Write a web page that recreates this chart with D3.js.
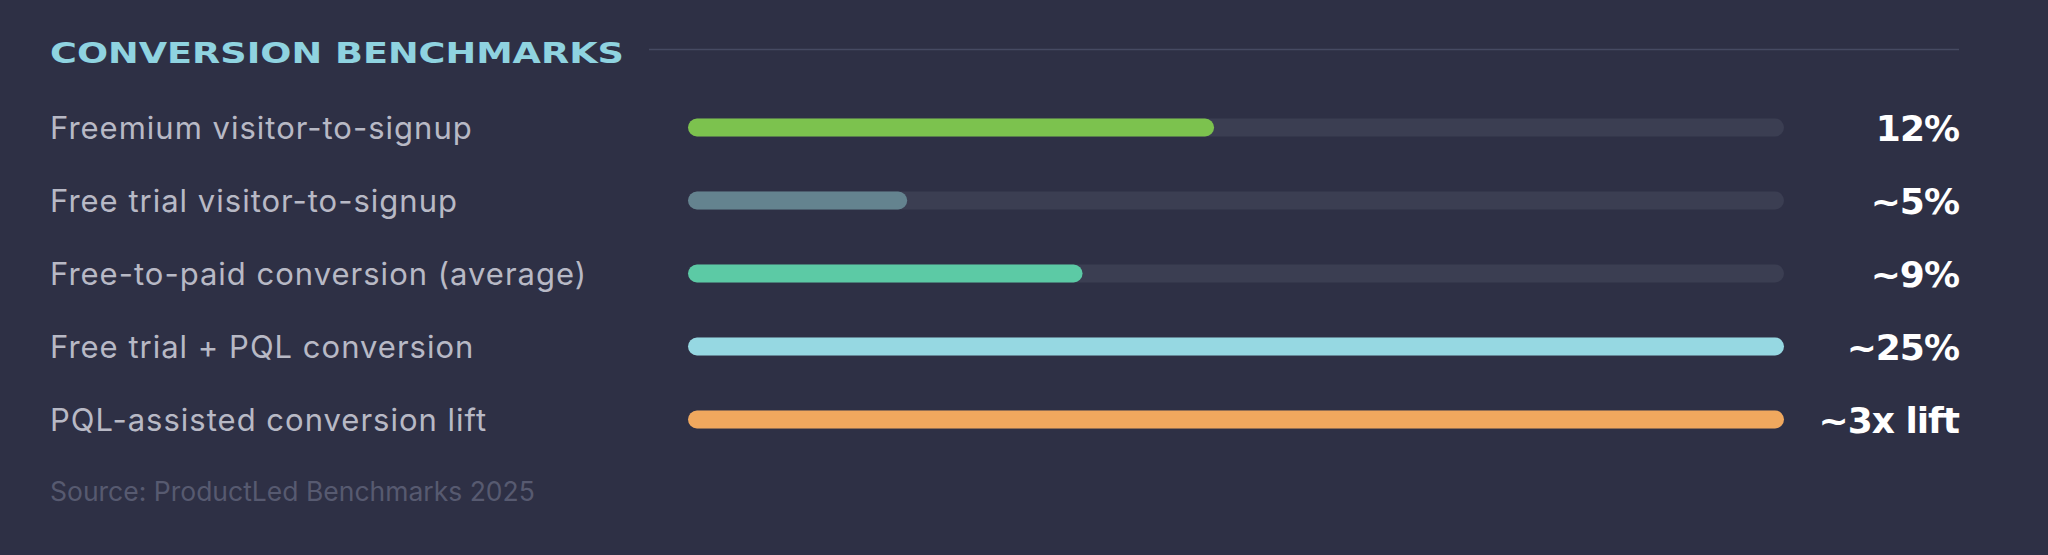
<!DOCTYPE html>
<html>
<head>
<meta charset="utf-8">
<script src="https://cdn.jsdelivr.net/npm/d3@7"></script>
<style>
  html, body { margin: 0; padding: 0; background: #2e3045; }
  svg { display: block; }
</style>
</head>
<body>
<div id="chart"></div>
<script>
// data
var categories = [
  "Freemium visitor-to-signup",
  "Free trial visitor-to-signup",
  "Free-to-paid conversion (average)",
  "Free trial + PQL conversion",
  "PQL-assisted conversion lift"
];
var values = [12, 5, 9, 25, 25];
var valueLabels = ["12%", "~5%", "~9%", "~25%", "~3x lift"];
var barColors = ["#7cc24e", "#64838f", "#5ccaa5", "#96d8e2", "#f0a85e"];
var title = "CONVERSION BENCHMARKS";
var source = "Source: ProductLed Benchmarks 2025";

function init(){
	var w = 2048;
	var h = 555;
	var barH = 18;

	var svg = d3.select("#chart")
				.append("svg")
				.attr("width", w)
				.attr("height", h);

	svg.append("rect")
		.attr("width", w)
		.attr("height", h)
		.attr("fill", "#2e3045");

	var x = d3.scaleLinear()
				.domain([0, 25])
				.range([688, 1784]);

	var y = d3.scalePoint()
				.domain(categories)
				.range([127.5, 419.5]);

	// title + rule
	svg.append("text")
		.attr("x", 50)
		.attr("y", 63)
		.attr("fill", "#8fd3e0")
		.attr("font-family", "'DejaVu Sans', sans-serif")
		.attr("font-weight", "bold")
		.attr("font-size", 29)
		.attr("textLength", 574)
		.attr("lengthAdjust", "spacingAndGlyphs")
		.text(title);

	svg.append("line")
		.attr("x1", 649)
		.attr("x2", 1959)
		.attr("y1", 49.5)
		.attr("y2", 49.5)
		.attr("stroke", "#464a62")
		.attr("stroke-width", 1.5);

	var rows = svg.selectAll("g.row")
		.data(categories)
		.enter()
		.append("g")
		.attr("class", "row")
		.attr("transform", function(d){ return "translate(0," + y(d) + ")"; });

	// track
	rows.append("rect")
		.attr("x", x(0))
		.attr("y", -barH / 2)
		.attr("width", x(25) - x(0))
		.attr("height", barH)
		.attr("rx", barH / 2)
		.attr("fill", "#3b3e52");

	// value bar
	rows.append("rect")
		.attr("x", x(0))
		.attr("y", -barH / 2)
		.attr("width", function(d, i){ return x(values[i]) - x(0); })
		.attr("height", barH)
		.attr("rx", barH / 2)
		.attr("fill", function(d, i){ return barColors[i]; });

	rows.append("text")
		.attr("x", 50)
		.attr("y", 11)
		.attr("fill", "#b8b9c5")
		.attr("font-family", "Inter, sans-serif")
		.attr("font-size", 31)
		.attr("letter-spacing", 1)
		.text(function(d){ return d; });

	rows.append("text")
		.attr("x", 1959)
		.attr("y", 13)
		.attr("text-anchor", "end")
		.attr("fill", "#ffffff")
		.attr("font-family", "'DejaVu Sans', sans-serif")
		.attr("font-weight", "bold")
		.attr("font-size", 36)
		.attr("letter-spacing", -1)
		.text(function(d, i){ return valueLabels[i]; });

	svg.append("text")
		.attr("x", 50)
		.attr("y", 501)
		.attr("fill", "#575a70")
		.attr("font-family", "Inter, sans-serif")
		.attr("font-size", 26.5)
		.text(source);
}

window.onload = init;
</script>
</body>
</html>
